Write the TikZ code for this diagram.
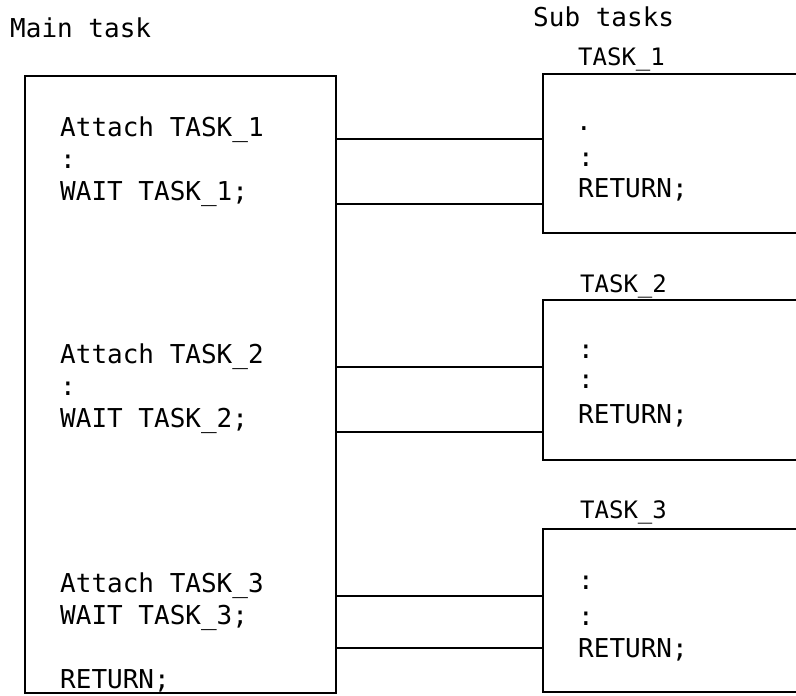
\documentclass[tikz,border=0pt]{standalone}
\usepackage{fontspec}
\newfontfamily\codefont{DejaVu Sans Mono}
\usetikzlibrary{positioning}

\begin{document}
\begin{tikzpicture}[x=1pt, y=-1pt,
  code/.style={anchor=base west, inner sep=0pt, font=\codefont\fontsize{26}{30}\selectfont},
  tname/.style={anchor=base west, inner sep=0pt, font=\codefont\fontsize{24}{28}\selectfont},
  box/.style={draw, line width=1.8pt, inner sep=0pt},
  link/.style={line width=1.8pt}]
  \clip (0,0) rectangle (796,696);
  \node[code] (mainlbl) at (10,37) {Main task};
  \node[code] (sublbl) at (533,27) {Sub tasks};
  \node[box, minimum width=311pt, minimum height=617pt] (main) at (180.5,384.5) {};
  \node[box, minimum width=320pt, minimum height=159pt] (sub1) at (703,153.5) {};
  \node[box, minimum width=320pt, minimum height=160pt] (sub2) at (703,380) {};
  \node[box, minimum width=320pt, minimum height=163pt] (sub3) at (703,610.5) {};
  \node[tname] (name1) at (578,65) {TASK\_1};
  \node[tname] (name2) at (580,292) {TASK\_2};
  \node[tname] (name3) at (580,518) {TASK\_3};
  % main task
  \node[code] (att1) at (60,136) {Attach TASK\_1};
  \node[code] (dot1) at (60,168) {:};
  \node[code] (wait1) at (60,200) {WAIT TASK\_1;};
  \node[code] (att2) at (60,363) {Attach TASK\_2};
  \node[code] (dot2) at (60,395) {:};
  \node[code] (wait2) at (60,427) {WAIT TASK\_2;};
  \node[code] (att3) at (60,592) {Attach TASK\_3};
  \node[code] (wait3) at (60,624) {WAIT TASK\_3;};
  \node[code] (ret0) at (60,688) {RETURN;};
  % sub tasks
  \node[code] (s1a) at (576,130) {.};
  \node[code] (s1b) at (578,166) {:};
  \node[code] (ret1) at (578,197) {RETURN;};
  \node[code] (s2a) at (578,358) {:};
  \node[code] (s2b) at (578,388) {:};
  \node[code] (ret2) at (578,423) {RETURN;};
  \node[code] (s3a) at (578,589) {:};
  \node[code] (s3b) at (578,625) {:};
  \node[code] (ret3) at (578,657) {RETURN;};
  \draw[link] (main.east |- 0,139) -- (sub1.west |- 0,139);
  \draw[link] (main.east |- 0,204) -- (sub1.west |- 0,204);
  \draw[link] (main.east |- 0,367) -- (sub2.west |- 0,367);
  \draw[link] (main.east |- 0,432) -- (sub2.west |- 0,432);
  \draw[link] (main.east |- 0,596) -- (sub3.west |- 0,596);
  \draw[link] (main.east |- 0,648) -- (sub3.west |- 0,648);
\end{tikzpicture}
\end{document}
